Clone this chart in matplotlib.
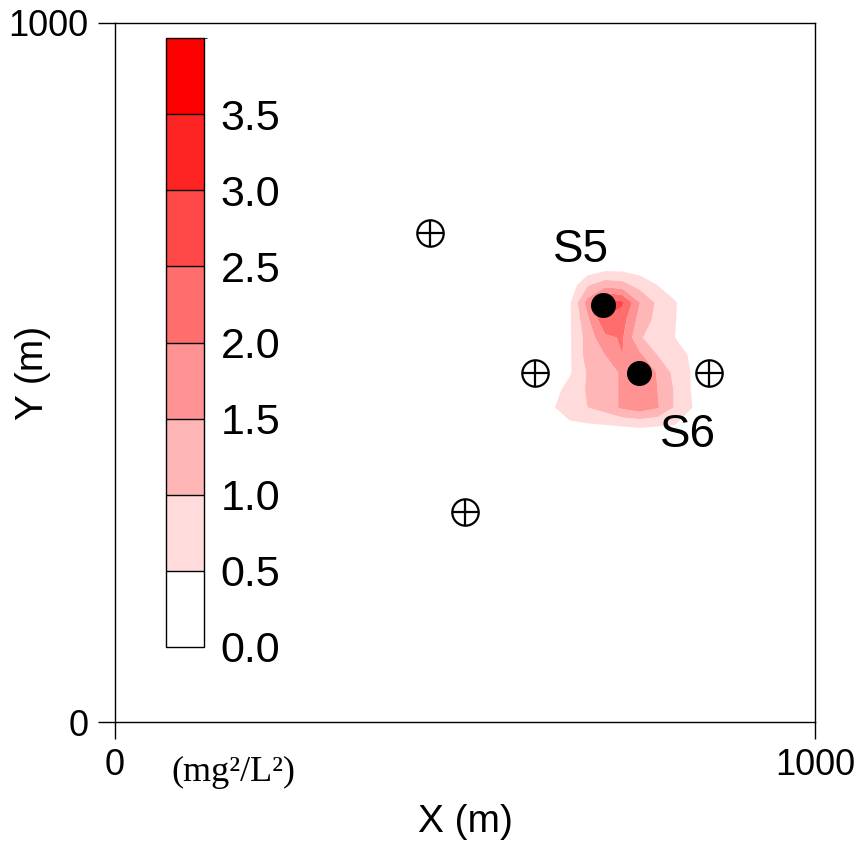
import numpy as np
import matplotlib
matplotlib.use("Agg")
import matplotlib.pyplot as plt
from matplotlib.colors import ListedColormap, BoundaryNorm

# ---- data ----
grid_x = [600, 625, 650, 675, 700, 725, 750, 775, 800, 825, 850]
grid_y = [675, 650, 625, 600, 575, 550, 525, 500, 475, 450, 425, 400]
conc = [
    [0, 0, 0, 0, 0, 0, 0, 0, 0, 0, 0],
    [0, 0, 0, 0.15, 0.3, 0.3, 0.25, 0.1, 0, 0, 0],
    [0, 0, 0.2, 0.95, 1.3, 1.2, 0.8, 0.5, 0.15, 0, 0],
    [0, 0, 0.45, 1.7, 2.9, 2.6, 1.5, 0.9, 0.55, 0.1, 0],
    [0, 0.1, 0.45, 1.4, 2.4, 2.2, 1.3, 0.85, 0.52, 0.2, 0],
    [0, 0.1, 0.45, 1.2, 1.9, 2.05, 1.05, 0.75, 0.5, 0.2, 0],
    [0, 0.1, 0.45, 1.2, 1.5, 2.0, 1.6, 1.0, 0.75, 0.4, 0],
    [0, 0.15, 0.45, 1.05, 1.2, 1.6, 2.1, 1.45, 0.85, 0.45, 0],
    [0, 0.3, 0.7, 1.05, 1.2, 1.6, 1.95, 1.5, 0.95, 0.45, 0],
    [0, 0.45, 0.8, 1.0, 1.2, 1.6, 1.8, 1.55, 0.95, 0.5, 0.1],
    [0, 0.1, 0.4, 0.45, 0.5, 0.55, 0.6, 0.55, 0.5, 0.4, 0],
    [0, 0, 0, 0, 0, 0, 0, 0, 0, 0, 0],
]
levels = [0.0, 0.5, 1.0, 1.5, 2.0, 2.5, 3.0, 3.5, 4.0]
band_colors = ["#ffffff", "#ffdbdb", "#ffb6b6", "#ff9292", "#ff6d6d",
               "#ff4949", "#ff2424", "#ff0000"]
level_labels = ["0.0", "0.5", "1.0", "1.5", "2.0", "2.5", "3.0", "3.5"]

inj_x = [450, 600, 849, 500]
inj_y = [700, 499, 499, 300]
obs_names = ["S5", "S6"]
obs_x = [697, 749]
obs_y = [596, 499]

# ---- figure ----
fig = plt.figure(figsize=(8.61, 8.42), dpi=100)
ax = fig.add_axes([115 / 861, (842 - 722) / 842, 700 / 861, 699 / 842])

cmap = ListedColormap(band_colors)
norm = BoundaryNorm(levels, cmap.N)
X, Y = np.meshgrid(grid_x, grid_y)
cf = ax.contourf(X, Y, np.array(conc), levels=levels, cmap=cmap, norm=norm,
                 antialiased=True)

ax.plot(inj_x, inj_y, linestyle="none", marker="o", ms=19, mfc="white",
        mec="black", mew=1.6, zorder=5)
ax.plot(inj_x, inj_y, linestyle="none", marker="+", ms=19, mec="black",
        mew=1.6, zorder=6)
ax.plot(obs_x, obs_y, linestyle="none", marker="o", ms=17, mfc="black",
        mec="black", zorder=6)

tf = dict(family="Liberation Sans")
ax.text(obs_x[0] - 32, obs_y[0] + 79, obs_names[0], fontsize=33, ha="center",
        va="center", **tf)
ax.text(obs_x[1] + 69, obs_y[1] - 88, obs_names[1], fontsize=33, ha="center",
        va="center", **tf)

ax.set_xlim(0, 1000)
ax.set_ylim(0, 1000)
ax.set_xticks([0, 1000])
ax.set_yticks([0, 1000])
ax.tick_params(direction="out", length=12, width=1, pad=7, labelsize=26)
for lab in ax.get_xticklabels() + ax.get_yticklabels():
    lab.set_family("Liberation Sans")
ax.set_xlabel("X (m)", fontsize=28, family="Liberation Sans", va="center")
ax.set_ylabel("Y (m)", fontsize=28, family="Liberation Sans", va="center")
ax.xaxis.set_label_coords(0.5, -0.143)
ax.yaxis.set_label_coords(-0.117, 0.5)
for s in ax.spines.values():
    s.set_linewidth(1)

# colorbar inside axes
cax = fig.add_axes([166 / 861, (842 - 647) / 842, 38 / 861, 609 / 842])
cb = fig.colorbar(cf, cax=cax, drawedges=True, ticks=levels[:-1])
cb.ax.set_yticklabels(level_labels)
cb.ax.tick_params(length=0, labelsize=31, pad=12)
for lab in cb.ax.get_yticklabels():
    lab.set_family("Liberation Sans")
cb.outline.set_linewidth(1)
cb.dividers.set_linewidth(1)

fig.text(233 / 861, 1 - 772 / 842, "(mg²/L²)", fontsize=26,
         family="Liberation Serif", ha="center", va="center")

fig.savefig("out.png", dpi=100)
